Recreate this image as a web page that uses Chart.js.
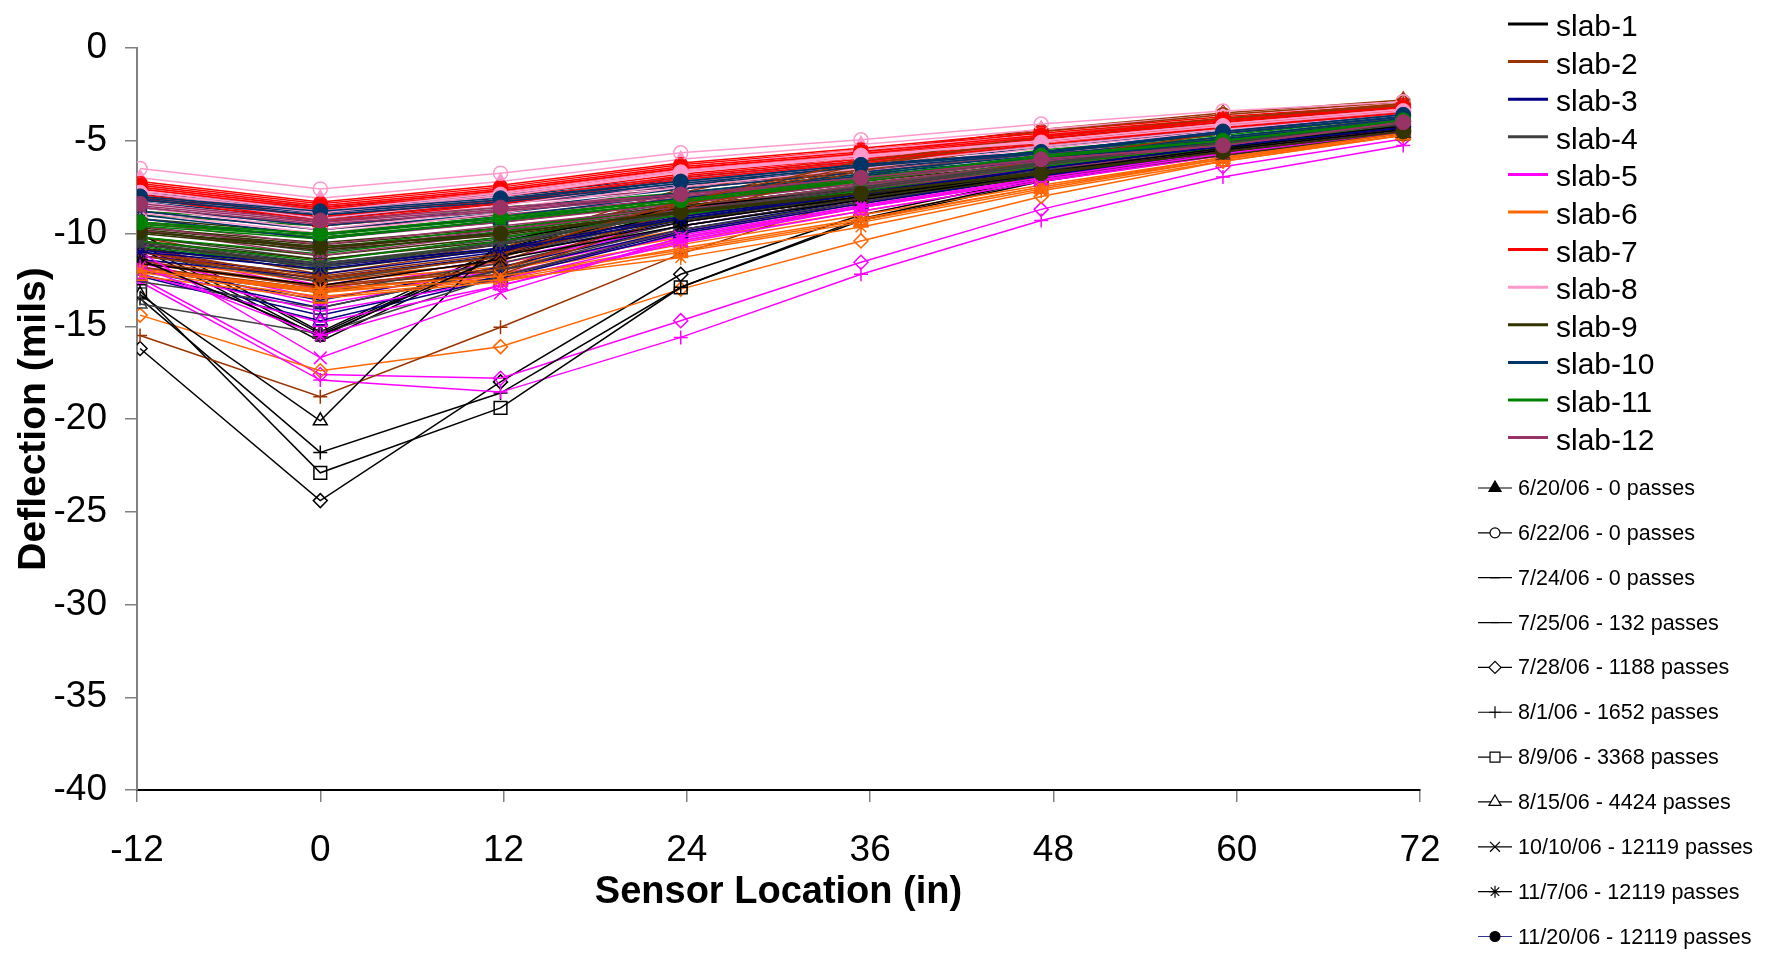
<!DOCTYPE html>
<html>
<head>
<meta charset="utf-8">
<title>Deflection vs Sensor Location</title>
<script src="https://cdn.jsdelivr.net/npm/chart.js@4.4.1/dist/chart.umd.min.js"></script>
<style>
  html, body { margin: 0; padding: 0; background: #fff; }
  canvas { display: block; }
</style>
</head>
<body>
<canvas id="deflectionChart" width="1775" height="954"></canvas>
<script>
// sensor positions (in) and axis ticks
var sensorLocations = [-11.8, 0, 11.8, 23.6, 35.4, 47.2, 59.1, 70.9];
var xTicks = [-12, 0, 12, 24, 36, 48, 60, 72];
var yTicks = [0, -5, -10, -15, -20, -25, -30, -35, -40];

var slabNames = ["slab-1", "slab-2", "slab-3", "slab-4", "slab-5", "slab-6",
                 "slab-7", "slab-8", "slab-9", "slab-10", "slab-11", "slab-12"];

var testDates = ["6/20/06 - 0 passes", "6/22/06 - 0 passes", "7/24/06 - 0 passes",
                 "7/25/06 - 132 passes", "7/28/06 - 1188 passes", "8/1/06 - 1652 passes",
                 "8/9/06 - 3368 passes", "8/15/06 - 4424 passes", "10/10/06 - 12119 passes",
                 "11/7/06 - 12119 passes", "11/20/06 - 12119 passes"];

// deflection (mils), one row per test date, one value per sensor
// (slabs 1-6 have no 11/20/06 reading)
var slab1 = [
  [-10.3, -15.4, -11.0, -8.6, -7.6, -6.4, -5.2, -4.2],
  [-10.0, -15.3, -10.8, -8.5, -7.5, -6.3, -5.1, -4.1],
  [-10.6, -15.6, -10.9, -8.7, -7.7, -6.5, -5.3, -4.3],
  [-10.8, -15.8, -11.2, -8.8, -7.8, -6.6, -5.4, -4.3],
  [-16.2, -24.4, -18.0, -12.2, -9.0, -7.0, -5.6, -4.4],
  [-13.5, -21.8, -18.6, -12.9, -9.3, -7.2, -5.7, -4.5],
  [-13.1, -22.9, -19.4, -12.9, -9.2, -7.1, -5.6, -4.4],
  [-13.3, -20.1, -10.4, -8.6, -7.6, -6.5, -5.3, -4.2],
  [-11.6, -12.8, -11.4, -9.6, -8.2, -6.8, -5.5, -4.4],
  [-11.4, -15.5, -11.2, -9.4, -8.0, -6.7, -5.4, -4.3]
];
var slab2 = [
  [-10.2, -12.0, -10.6, -7.6, -5.6, -4.4, -3.5, -2.8],
  [-10.4, -12.2, -10.8, -7.8, -5.8, -4.5, -3.6, -2.9],
  [-10.8, -12.5, -11.2, -8.2, -6.0, -4.7, -3.8, -3.0],
  [-11.0, -12.6, -11.5, -8.4, -6.2, -4.8, -3.9, -3.1],
  [-11.6, -12.9, -12.0, -8.8, -6.5, -5.0, -4.0, -3.2],
  [-15.5, -18.8, -15.05, -11.1, -8.0, -6.0, -4.6, -3.5],
  [-11.8, -13.0, -12.2, -9.0, -6.6, -5.1, -4.1, -3.3],
  [-11.5, -12.8, -11.9, -8.7, -6.4, -4.9, -4.0, -3.2],
  [-11.2, -12.4, -11.3, -8.5, -6.3, -4.9, -3.9, -3.1],
  [-11.0, -12.3, -11.1, -8.3, -6.1, -4.8, -3.8, -3.0]
];
var slab3 = [
  [-10.6, -11.6, -10.6, -8.8, -7.5, -6.2, -5.0, -4.0],
  [-10.8, -11.8, -10.8, -9.0, -7.6, -6.3, -5.1, -4.1],
  [-11.2, -12.2, -11.0, -9.2, -7.8, -6.4, -5.2, -4.2],
  [-11.4, -12.4, -11.2, -9.3, -7.9, -6.5, -5.3, -4.2],
  [-11.8, -13.6, -11.8, -9.6, -8.1, -6.7, -5.4, -4.3],
  [-12.0, -14.0, -12.0, -9.8, -8.2, -6.8, -5.5, -4.4],
  [-12.2, -14.4, -12.3, -9.9, -8.3, -6.9, -5.6, -4.4],
  [-12.3, -14.7, -12.4, -10.0, -8.4, -6.9, -5.6, -4.5],
  [-10.9, -11.7, -10.8, -9.1, -7.8, -6.5, -5.3, -4.3],
  [-11.0, -11.9, -10.9, -9.2, -7.9, -6.5, -5.3, -4.3]
];
var slab4 = [
  [-9.6, -10.8, -9.9, -8.3, -7.1, -5.9, -4.8, -3.9],
  [-9.8, -11.0, -10.0, -8.4, -7.2, -6.0, -4.9, -4.0],
  [-10.2, -11.4, -10.3, -8.6, -7.4, -6.1, -5.0, -4.0],
  [-10.4, -11.6, -10.5, -8.7, -7.5, -6.2, -5.0, -4.1],
  [-11.2, -12.6, -11.2, -9.1, -7.8, -6.4, -5.2, -4.2],
  [-12.0, -13.2, -11.6, -9.4, -8.0, -6.6, -5.3, -4.3],
  [-12.6, -14.0, -12.0, -9.6, -8.1, -6.7, -5.4, -4.4],
  [-13.8, -15.4, -12.3, -9.8, -8.3, -6.8, -5.5, -4.4],
  [-10.6, -11.8, -10.6, -8.9, -7.6, -6.3, -5.1, -4.1],
  [-10.5, -11.7, -10.5, -8.8, -7.5, -6.2, -5.1, -4.1]
];
var slab5 = [
  [-10.8, -12.8, -11.4, -9.4, -8.0, -6.6, -5.3, -4.2],
  [-11.0, -13.0, -11.6, -9.6, -8.1, -6.7, -5.4, -4.3],
  [-11.4, -13.5, -12.0, -9.9, -8.3, -6.9, -5.5, -4.4],
  [-11.6, -13.8, -12.2, -10.1, -8.5, -7.0, -5.6, -4.4],
  [-12.4, -17.6, -17.8, -14.7, -11.55, -8.7, -6.4, -4.9],
  [-12.6, -17.9, -18.55, -15.6, -12.2, -9.3, -6.95, -5.25],
  [-11.9, -14.2, -12.5, -10.3, -8.6, -7.1, -5.7, -4.5],
  [-12.2, -14.8, -12.8, -10.5, -8.8, -7.2, -5.8, -4.6],
  [-11.0, -16.7, -13.2, -10.2, -8.5, -7.0, -5.6, -4.5],
  [-11.8, -15.5, -12.8, -10.4, -8.6, -7.1, -5.7, -4.5]
];
var slab6 = [
  [-11.2, -12.4, -11.6, -9.8, -8.3, -6.8, -5.5, -4.3],
  [-11.4, -12.6, -11.8, -10.0, -8.4, -6.9, -5.6, -4.4],
  [-11.6, -12.9, -12.0, -10.2, -8.6, -7.0, -5.7, -4.5],
  [-11.8, -13.1, -12.2, -10.4, -8.8, -7.2, -5.8, -4.5],
  [-14.4, -17.4, -16.1, -13.0, -10.4, -8.0, -6.1, -4.7],
  [-12.0, -13.2, -12.4, -10.6, -9.0, -7.4, -5.9, -4.6],
  [-12.1, -13.4, -12.5, -10.8, -9.2, -7.5, -6.0, -4.6],
  [-12.3, -13.5, -12.6, -11.0, -9.4, -7.6, -6.0, -4.7],
  [-11.9, -13.0, -12.3, -10.9, -9.3, -7.5, -5.9, -4.6],
  [-12.0, -13.1, -12.5, -11.3, -9.65, -7.7, -6.1, -4.7]
];
var slab7 = [
  [-7.2, -8.3, -7.4, -6.2, -5.4, -4.5, -3.7, -3.0],
  [-7.3, -8.4, -7.5, -6.3, -5.5, -4.6, -3.8, -3.1],
  [-7.5, -8.6, -7.7, -6.5, -5.7, -4.8, -4.0, -3.2],
  [-7.6, -8.7, -7.8, -6.6, -5.8, -4.9, -4.0, -3.3],
  [-7.8, -8.9, -8.0, -6.8, -5.9, -5.0, -4.1, -3.4],
  [-7.9, -9.1, -8.2, -6.9, -6.0, -5.1, -4.2, -3.4],
  [-8.0, -9.3, -8.3, -7.0, -6.1, -5.1, -4.3, -3.5],
  [-8.1, -9.4, -8.4, -7.1, -6.2, -5.2, -4.3, -3.5],
  [-7.6, -8.7, -7.8, -6.6, -5.8, -4.9, -4.0, -3.3],
  [-7.5, -8.6, -7.7, -6.5, -5.7, -4.8, -3.9, -3.2],
  [-7.4, -8.5, -7.6, -6.4, -5.6, -4.7, -3.9, -3.2]
];
var slab8 = [
  [-7.0, -8.1, -7.2, -6.0, -5.2, -4.4, -3.6, -3.0],
  [-6.5, -7.6, -6.75, -5.65, -4.95, -4.1, -3.4, -2.9],
  [-7.4, -8.5, -7.6, -6.4, -5.5, -4.7, -3.9, -3.2],
  [-7.6, -8.7, -7.8, -6.6, -5.7, -4.8, -4.0, -3.3],
  [-8.0, -9.2, -8.2, -6.9, -6.0, -5.0, -4.2, -3.4],
  [-8.3, -9.5, -8.5, -7.1, -6.2, -5.2, -4.3, -3.5],
  [-8.6, -9.8, -8.7, -7.3, -6.3, -5.3, -4.4, -3.6],
  [-8.9, -10.0, -8.9, -7.5, -6.5, -5.4, -4.5, -3.6],
  [-7.8, -8.9, -8.0, -6.7, -5.9, -5.0, -4.1, -3.3],
  [-7.7, -8.8, -7.8, -6.6, -5.8, -5.0, -4.1, -3.3],
  [-7.8, -8.9, -7.9, -6.7, -5.8, -5.1, -4.2, -3.4]
];
var slab9 = [
  [-9.2, -10.0, -9.2, -8.1, -7.2, -6.2, -5.1, -4.1],
  [-9.4, -10.2, -9.4, -8.3, -7.3, -6.3, -5.2, -4.2],
  [-9.7, -10.5, -9.7, -8.5, -7.5, -6.5, -5.4, -4.3],
  [-9.8, -10.6, -9.8, -8.6, -7.6, -6.5, -5.4, -4.4],
  [-10.2, -11.2, -10.2, -8.9, -7.8, -6.7, -5.6, -4.5],
  [-10.4, -11.4, -10.4, -9.0, -7.9, -6.8, -5.6, -4.5],
  [-10.6, -11.7, -10.6, -9.2, -8.0, -6.9, -5.7, -4.6],
  [-10.8, -12.0, -10.8, -9.3, -8.1, -7.0, -5.8, -4.6],
  [-10.0, -10.9, -10.1, -8.9, -7.9, -6.8, -5.6, -4.5],
  [-9.9, -10.8, -10.0, -8.8, -7.8, -6.7, -5.6, -4.5],
  [-9.9, -10.7, -10.0, -8.85, -7.85, -6.75, -5.6, -4.5]
];
var slab10 = [
  [-7.8, -8.6, -7.9, -7.0, -6.1, -5.3, -4.3, -3.4],
  [-7.9, -8.7, -8.0, -7.1, -6.2, -5.4, -4.4, -3.5],
  [-8.2, -9.0, -8.3, -7.3, -6.4, -5.6, -4.6, -3.7],
  [-8.3, -9.2, -8.4, -7.4, -6.5, -5.7, -4.6, -3.7],
  [-8.6, -9.6, -8.7, -7.6, -6.7, -5.8, -4.8, -3.8],
  [-8.8, -9.8, -8.9, -7.8, -6.8, -5.9, -4.9, -3.9],
  [-9.0, -10.1, -9.1, -7.9, -6.9, -6.0, -5.0, -4.0],
  [-9.2, -10.3, -9.3, -8.1, -7.0, -6.1, -5.0, -4.0],
  [-8.2, -9.0, -8.3, -7.3, -6.4, -5.6, -4.6, -3.7],
  [-8.1, -8.9, -8.2, -7.2, -6.3, -5.6, -4.5, -3.6],
  [-8.0, -8.8, -8.1, -7.2, -6.3, -5.6, -4.5, -3.6]
];
var slab11 = [
  [-8.8, -9.4, -8.6, -7.8, -6.8, -5.5, -4.7, -3.7],
  [-9.0, -9.6, -8.8, -7.9, -6.9, -5.6, -4.8, -3.8],
  [-9.4, -10.0, -9.1, -8.2, -7.1, -5.8, -4.9, -3.9],
  [-9.5, -10.2, -9.3, -8.3, -7.2, -5.9, -5.0, -4.0],
  [-9.9, -10.8, -9.7, -8.6, -7.4, -6.1, -5.2, -4.1],
  [-10.2, -11.1, -9.9, -8.7, -7.5, -6.2, -5.2, -4.1],
  [-10.4, -11.5, -10.2, -8.9, -7.6, -6.3, -5.3, -4.2],
  [-10.7, -11.8, -10.4, -9.0, -7.7, -6.4, -5.4, -4.3],
  [-9.6, -10.3, -9.3, -8.3, -7.2, -5.9, -5.0, -4.0],
  [-9.5, -10.1, -9.2, -8.2, -7.1, -5.8, -5.0, -3.9],
  [-9.4, -10.0, -9.1, -8.2, -7.0, -5.8, -5.0, -3.9]
];
var slab12 = [
  [-8.0, -8.9, -8.2, -7.5, -6.6, -5.6, -4.9, -3.7],
  [-8.2, -9.1, -8.4, -7.6, -6.7, -5.7, -5.0, -3.8],
  [-8.6, -9.6, -8.8, -8.0, -7.0, -5.9, -5.2, -3.9],
  [-8.8, -9.8, -9.0, -8.1, -7.1, -6.0, -5.3, -4.0],
  [-9.2, -10.3, -9.4, -8.4, -7.3, -6.2, -5.4, -4.1],
  [-9.4, -10.6, -9.6, -8.6, -7.4, -6.3, -5.5, -4.2],
  [-9.6, -10.9, -9.8, -8.7, -7.5, -6.4, -5.5, -4.2],
  [-9.8, -11.2, -10.0, -8.8, -7.6, -6.5, -5.6, -4.3],
  [-8.6, -9.5, -8.8, -8.0, -7.1, -6.1, -5.3, -4.0],
  [-8.5, -9.4, -8.7, -7.9, -7.0, -6.0, -5.25, -4.0],
  [-8.4, -9.3, -8.6, -7.9, -7.0, -6.0, -5.25, -4.0]
];

var slabData = [slab1, slab2, slab3, slab4, slab5, slab6,
                slab7, slab8, slab9, slab10, slab11, slab12];

// styles
var slabColors = ["#000000", "#993300", "#000080", "#404040", "#FF00FF", "#FF6600",
                  "#FF0000", "#FF99CC", "#333300", "#003366", "#008000", "#993366"];

var dateMarkers = [
  { style: "triangle", radius: 8,   width: 1.5, fill: true,  legendRadius: 7 },
  { style: "circle",   radius: 7,   width: 1.5, fill: false, legendRadius: 5 },
  { style: "line",     radius: 6,   width: 3,   fill: false, legendRadius: 5 },
  { style: "line",     radius: 5,   width: 1.5, fill: false, legendRadius: 4 },
  { style: "rectRot",  radius: 7,   width: 1.5, fill: false, legendRadius: 6 },
  { style: "cross",    radius: 7,   width: 1.5, fill: false, legendRadius: 6 },
  { style: "rect",     radius: 9,   width: 1.5, fill: false, legendRadius: 7 },
  { style: "triangle", radius: 8,   width: 1.5, fill: false, legendRadius: 7 },
  { style: "crossRot", radius: 9,   width: 1.5, fill: false, legendRadius: 7 },
  { style: "star",     radius: 7.5, width: 1.5, fill: false, legendRadius: 6 },
  { style: "circle",   radius: 7.5, width: 1,   fill: true,  legendRadius: 5 }
];

var FONT = 'Arial, "Liberation Sans", Helvetica, sans-serif';

// series are stacked date by date, so the last test date is drawn on top
var datasets = [];
var total = slabData.length * testDates.length;
slabData.forEach(function (rows, s) {
  rows.forEach(function (vals, d) {
    var m = dateMarkers[d];
    datasets.push({
      label: slabNames[s] + " " + testDates[d],
      data: vals.map(function (v, i) { return { x: sensorLocations[i], y: v }; }),
      borderColor: slabColors[s],
      backgroundColor: slabColors[s],
      borderWidth: 1.5,
      pointStyle: m.style,
      pointRadius: m.radius,
      pointBorderWidth: m.width,
      pointBorderColor: slabColors[s],
      pointBackgroundColor: m.fill ? slabColors[s] : "rgba(255,255,255,0)",
      tension: 0,
      order: total - (d * slabData.length + s)
    });
  });
});

// legend drawn at the right, slabs (colored lines) then dates (markers)
var sideLegend = {
  id: "sideLegend",
  afterDraw: function (chart) {
    var ctx = chart.ctx;
    ctx.save();
    ctx.textBaseline = "alphabetic";
    ctx.textAlign = "left";
    ctx.font = "30px " + FONT;
    slabNames.forEach(function (name, i) {
      var y = 24 + i * 37.6;
      ctx.strokeStyle = slabColors[i];
      ctx.lineWidth = 3;
      ctx.beginPath();
      ctx.moveTo(1508, y);
      ctx.lineTo(1548, y);
      ctx.stroke();
      ctx.fillStyle = "#000";
      ctx.fillText(name, 1556, y + 12);
    });
    ctx.font = "21.5px " + FONT;
    testDates.forEach(function (name, i) {
      var m = dateMarkers[i];
      var y = 488 + i * 44.85;
      ctx.strokeStyle = i === testDates.length - 1 ? "#333399" : "#000";
      ctx.lineWidth = 1.2;
      ctx.beginPath();
      ctx.moveTo(1478, y);
      ctx.lineTo(1512, y);
      ctx.stroke();
      ctx.strokeStyle = "#000";
      ctx.fillStyle = m.fill ? "#000" : "#fff";
      Chart.helpers.drawPoint(ctx, {
        pointStyle: m.style,
        radius: m.legendRadius,
        borderWidth: m.style === "line" ? m.width : 1.2,
        rotation: 0
      }, 1495, y);
      ctx.fillStyle = "#000";
      ctx.fillText(name, 1518, y + 7);
    });
    ctx.restore();
  }
};

var ctx = document.getElementById("deflectionChart").getContext("2d");
var deflectionChart = new Chart(ctx, {
  type: "line",
  data: { datasets: datasets },
  plugins: [sideLegend],
  options: {
    responsive: false,
    animation: false,
    devicePixelRatio: 1,
    layout: { padding: { top: 48, right: 355, bottom: 0, left: 0 } },
    plugins: {
      legend: { display: false },
      tooltip: { enabled: false }
    },
    scales: {
      x: {
        type: "linear",
        min: -12,
        max: 72,
        afterBuildTicks: function (scale) {
          scale.ticks = xTicks.map(function (v) { return { value: v }; });
        },
        afterFit: function (scale) { scale.height = 164; },
        grid: { drawOnChartArea: false, drawTicks: true, tickLength: 12, color: "#808080", lineWidth: 1.5 },
        border: { display: true, color: "#000", width: 2 },
        ticks: { color: "#000", font: { family: FONT, size: 37 }, padding: 27, maxRotation: 0 },
        title: {
          display: true,
          text: "Sensor Location (in)",
          color: "#000",
          font: { family: FONT, size: 38, weight: "bold" },
          padding: { top: 0, bottom: 39 }
        }
      },
      y: {
        min: -40,
        max: 0,
        afterBuildTicks: function (scale) {
          scale.ticks = yTicks.map(function (v) { return { value: v }; });
        },
        afterFit: function (scale) { scale.width = 137; },
        grid: { drawOnChartArea: false, drawTicks: true, tickLength: 12, color: "#808080", lineWidth: 1.5 },
        border: { display: true, color: "#808080", width: 2 },
        ticks: { color: "#000", font: { family: FONT, size: 37 }, padding: 18 },
        title: {
          display: true,
          text: "Deflection (mils)",
          color: "#000",
          font: { family: FONT, size: 39, weight: "bold" },
          padding: { top: 11, bottom: 0 }
        }
      }
    }
  }
});
</script>
</body>
</html>
